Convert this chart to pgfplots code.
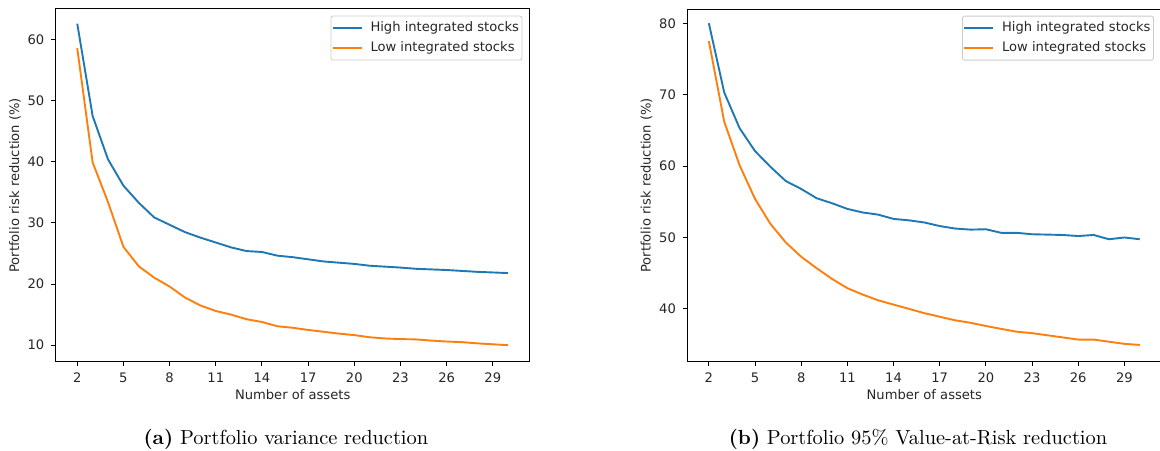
\documentclass[border=0pt]{standalone}
\usepackage{pgfplots}
\pgfplotsset{compat=1.18}
\usepackage{fontspec}
\newfontfamily\dejavu{DejaVu Sans}
\definecolor{tabblue}{HTML}{1F77B4}
\definecolor{taborange}{HTML}{FF7F0E}
\newcommand{\chartfont}{\dejavu\fontsize{6.55}{7.8}\selectfont}
\pgfplotsset{
  mystyle/.style={
    scale only axis,
    width=237pt, height=176.35pt,
    anchor=south west,
    axis line style={black, line width=0.5pt},
    every tick/.style={black, line width=0.5pt},
    tick align=outside,
    major tick length=2.2pt,
    xtick pos=bottom, ytick pos=left,
    xmin=0.6, xmax=31.4,
    xtick={2,5,8,11,14,17,20,23,26,29},
    /pgf/number format/assume math mode=true,
    tick label style={font=\chartfont, text=black!85},
    label style={font=\chartfont, text=black!85},
    xlabel={Number of assets},
    ylabel={Portfolio risk reduction (\%)},
    xlabel style={at={(axis description cs:0.5,-0.094)}, anchor=center},
    ylabel style={at={(axis description cs:-0.086,0.5)}, anchor=center},
    legend style={font=\chartfont, text=black!85, at={(rel axis cs:1,1)}, anchor=north east,
      xshift=-3.7pt, yshift=-3.35pt, draw=black!20, fill=white, rounded corners=1pt,
      inner xsep=0.5pt, inner ysep=1pt, row sep=0pt, column sep=3pt,
      nodes={inner xsep=1pt, inner ysep=1pt, text height=5.5pt, text depth=2.5pt}},
    legend cell align=left,
    legend image code/.code={\draw[##1] (0pt,0pt) -- (14.35pt,0pt);},
    every axis plot/.append style={line width=0.95pt, line join=round},
  }
}
\begin{document}
\begin{tikzpicture}
\useasboundingbox (0,0) rectangle (580pt,225pt);
\begin{axis}[mystyle, at={(27.85pt,44.15pt)}, ymin=7.3, ymax=65.0, ytick={10,20,30,40,50,60}]
\addplot[tabblue] coordinates {
(2,62.6) (3,47.5) (4,40.4) (5,36.1) (6,33.3) (7,30.9) (8,29.7) (9,28.5) (10,27.6)
(11,26.8) (12,26.0) (13,25.4) (14,25.25) (15,24.65) (16,24.4) (17,24.05) (18,23.7)
(19,23.5) (20,23.3) (21,23.0) (22,22.85) (23,22.7) (24,22.5) (25,22.4) (26,22.3)
(27,22.15) (28,22.0) (29,21.9) (30,21.8)};
\addlegendentry{High integrated stocks}
\addplot[taborange] coordinates {
(2,58.6) (3,39.9) (4,33.4) (5,26.1) (6,22.9) (7,21.05) (8,19.6) (9,17.8) (10,16.5)
(11,15.6) (12,15.0) (13,14.25) (14,13.8) (15,13.1) (16,12.85) (17,12.5) (18,12.2)
(19,11.9) (20,11.65) (21,11.3) (22,11.1) (23,11.0) (24,10.95) (25,10.75) (26,10.6)
(27,10.5) (28,10.3) (29,10.15) (30,10.0)};
\addlegendentry{Low integrated stocks}
\end{axis}
\begin{axis}[mystyle, at={(343.65pt,44.15pt)}, ymin=32.6, ymax=82.0, ytick={40,50,60,70,80}]
\addplot[tabblue] coordinates {
(2,80.0) (3,70.3) (4,65.3) (5,62.1) (6,59.9) (7,57.9) (8,56.8) (9,55.5) (10,54.8)
(11,54.0) (12,53.5) (13,53.2) (14,52.6) (15,52.4) (16,52.1) (17,51.6) (18,51.25)
(19,51.1) (20,51.15) (21,50.65) (22,50.65) (23,50.45) (24,50.4) (25,50.35) (26,50.2)
(27,50.35) (28,49.75) (29,50.0) (30,49.75)};
\addlegendentry{High integrated stocks}
\addplot[taborange] coordinates {
(2,77.5) (3,66.2) (4,60.1) (5,55.4) (6,51.9) (7,49.3) (8,47.3) (9,45.7) (10,44.2)
(11,42.9) (12,42.0) (13,41.2) (14,40.6) (15,40.0) (16,39.4) (17,38.9) (18,38.4)
(19,38.05) (20,37.6) (21,37.2) (22,36.8) (23,36.6) (24,36.3) (25,36.0) (26,35.7)
(27,35.7) (28,35.4) (29,35.1) (30,34.95)};
\addlegendentry{Low integrated stocks}
\end{axis}
\node[anchor=base, font=\fontsize{10.2}{12}\selectfont] at (142.95pt,3pt) {\textbf{(a)} Portfolio variance reduction};
\node[anchor=base, font=\fontsize{10.2}{12}\selectfont] at (459pt,3pt) {\textbf{(b)} Portfolio 95\% Value-at-Risk reduction};
\end{tikzpicture}
\end{document}
